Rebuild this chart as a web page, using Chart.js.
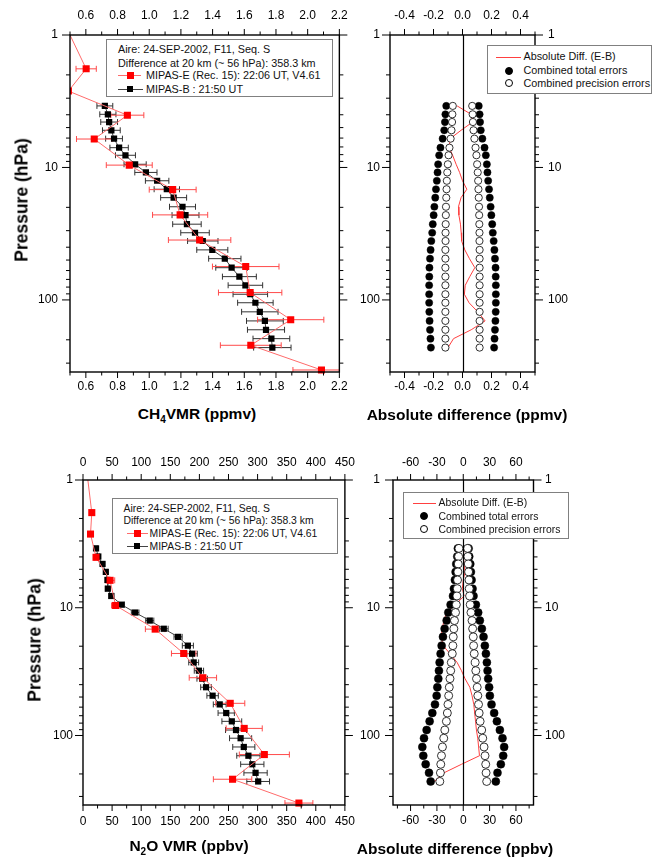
<!DOCTYPE html>
<html>
<head>
<meta charset="utf-8">
<script src="https://cdn.jsdelivr.net/npm/chart.js@4.4.1/dist/chart.umd.min.js"></script>
<style>
  body { margin: 0; background: #fff; width: 655px; height: 858px; position: relative; overflow: hidden;
         font-family: "Liberation Sans", Arial, sans-serif; }
  canvas { position: absolute; }
  .lg { position: absolute; background: #fff; border: 1px solid #808080; box-sizing: border-box; color: #111; }
  .lg div { position: absolute; white-space: nowrap; line-height: 13px; }
  .lg .ln { height: 1px; }
  .lg .sq { width: 7px; height: 7px; }
  .lg .dot { width: 8px; height: 8px; border-radius: 50%; box-sizing: border-box; border: 1px solid #000; }
  .ttl { position: absolute; font-weight: bold; font-size: 15.5px; white-space: nowrap; color: #000;
         transform: translate(-50%, -50%); }
  .ttl sub { font-size: 10px; vertical-align: -4px; }
  .rot { font-size: 17.5px; transform: translate(-50%, -50%) rotate(-90deg); }
</style>
</head>
<body>
<canvas id="ch4" width="360" height="400" style="left:0;top:0"></canvas>
<canvas id="ch4diff" width="305" height="400" style="left:350px;top:0"></canvas>
<canvas id="n2o" width="365" height="418" style="left:0;top:440px"></canvas>
<canvas id="n2odiff" width="305" height="418" style="left:350px;top:440px"></canvas>

<div class="lg" style="left:106px;top:39px;width:227px;height:58px;font-size:10.8px">
  <div style="left:11px;top:3px">Aire: 24-SEP-2002, F11, Seq. S</div>
  <div style="left:11px;top:16.5px">Difference at 20 km (~ 56 hPa): 358.3 km</div>
  <div class="ln" style="left:10.5px;top:35px;width:23px;background:#ff6b6b"></div>
  <div class="sq" style="left:19.5px;top:31.5px;background:#f00"></div>
  <div style="left:39px;top:28.5px">MIPAS-E (Rec. 15): 22:06 UT, V4.61</div>
  <div class="ln" style="left:10.5px;top:48.5px;width:25px;background:#444"></div>
  <div class="sq" style="left:20px;top:45.5px;width:6px;height:6px;background:#000"></div>
  <div style="left:39px;top:42.5px">MIPAS-B : 21:50 UT</div>
</div>

<div class="lg" style="left:487px;top:45px;width:165px;height:49px;font-size:10.8px">
  <div class="ln" style="left:7.5px;top:10.5px;width:25px;background:#ff4040"></div>
  <div style="left:35.5px;top:4px">Absolute Diff. (E-B)</div>
  <div class="dot" style="left:16.5px;top:20.5px;background:#000"></div>
  <div style="left:35.5px;top:18px">Combined total errors</div>
  <div class="dot" style="left:16.5px;top:33px;background:#fff"></div>
  <div style="left:35.5px;top:30.5px">Combined precision errors</div>
</div>

<div class="lg" style="left:112px;top:498px;width:226px;height:56px;font-size:10.4px">
  <div style="left:10.5px;top:2.5px">Aire: 24-SEP-2002, F11, Seq. S</div>
  <div style="left:10.5px;top:15px">Difference at 20 km (~ 56 hPa): 358.3 km</div>
  <div class="ln" style="left:14px;top:34px;width:21px;background:#ff6b6b"></div>
  <div class="sq" style="left:20.5px;top:30.5px;background:#f00"></div>
  <div style="left:36.5px;top:28px">MIPAS-E (Rec. 15): 22:06 UT, V4.61</div>
  <div class="ln" style="left:14px;top:47px;width:21px;background:#444"></div>
  <div class="sq" style="left:21px;top:44px;width:6px;height:6px;background:#000"></div>
  <div style="left:36.5px;top:40.5px">MIPAS-B : 21:50 UT</div>
</div>

<div class="lg" style="left:403px;top:492px;width:166px;height:47px;font-size:10.4px">
  <div class="ln" style="left:9px;top:9.5px;width:23px;background:#ff4040"></div>
  <div style="left:34.5px;top:3px">Absolute Diff. (E-B)</div>
  <div class="dot" style="left:15.5px;top:18.5px;background:#000"></div>
  <div style="left:34.5px;top:16.5px">Combined total errors</div>
  <div class="dot" style="left:15.5px;top:32px;background:#fff"></div>
  <div style="left:34.5px;top:30px">Combined precision errors</div>
</div>

<div class="ttl rot" style="left:22px;top:200px">Pressure (hPa)</div>
<div class="ttl rot" style="left:35px;top:640px">Pressure (hPa)</div>
<div class="ttl" style="left:197px;top:415px">CH<sub>4</sub>VMR (ppmv)</div>
<div class="ttl" style="left:467px;top:415px">Absolute difference (ppmv)</div>
<div class="ttl" style="left:189px;top:847px">N<sub>2</sub>O VMR (ppbv)</div>
<div class="ttl" style="left:455px;top:849px">Absolute difference (ppbv)</div>

<script>
// pressure levels (hPa) of MIPAS-B and of MIPAS-E
var pressB = [3.43, 3.97, 4.54, 5.24, 6.06, 7.09, 8.09, 9.46, 10.9, 12.6, 14.6, 16.9, 19.8, 22.9, 26.8,
  31.1, 35.9, 41.9, 48.8, 57.1, 66.7, 77.5, 90.6, 105, 123, 144, 168, 196, 229];
var pressE = [0.85, 1.8, 2.65, 4.03, 6.1, 9.6, 14.7, 22.8, 35.3, 56, 88, 141, 220, 338];

// CH4 (ppmv)
var ch4B = [0.72, 0.739, 0.747, 0.761, 0.778, 0.81, 0.85, 0.911, 0.979, 1.05, 1.111, 1.154, 1.21, 1.229, 1.238,
  1.289, 1.338, 1.398, 1.477, 1.52, 1.569, 1.607, 1.638, 1.67, 1.698, 1.73, 1.737, 1.771, 1.777];
var ch4BErr = [0.05, 0.051, 0.053, 0.056, 0.053, 0.058, 0.063, 0.07, 0.07, 0.074, 0.08, 0.082, 0.082, 0.085, 0.09,
  0.09, 0.096, 0.098, 0.102, 0.1, 0.107, 0.109, 0.109, 0.112, 0.115, 0.116, 0.117, 0.116, 0.118];
var ch4E = [0.472, 0.602, 0.49, 0.862, 0.653, 0.874, 1.148, 1.195, 1.318, 1.609, 1.637, 1.893, 1.641, 2.087];
var ch4EErr = [0.05, 0.064, 0.01, 0.104, 0.112, 0.145, 0.148, 0.174, 0.197, 0.21, 0.2, 0.209, 0.192, 0.18];
var ch4Diff = [-0.037, 0.06, 0.07, -0.01, -0.085, -0.092, -0.068, -0.044, -0.02, 0.0, 0.03, -0.01, -0.028, -0.025, -0.014,
  -0.009, -0.006, 0.016, 0.048, 0.085, 0.05, 0.019, 0.013, 0.045, 0.105, 0.156, 0.06, -0.062, -0.1];
var ch4Total = [0.112, 0.118, 0.121, 0.126, 0.137, 0.152, 0.161, 0.168, 0.172, 0.177, 0.183, 0.188, 0.194, 0.199, 0.205,
  0.209, 0.215, 0.22, 0.224, 0.228, 0.229, 0.23, 0.23, 0.23, 0.229, 0.227, 0.224, 0.221, 0.218];
var ch4Prec = [0.067, 0.07, 0.072, 0.076, 0.082, 0.09, 0.096, 0.101, 0.105, 0.108, 0.11, 0.112, 0.114, 0.115, 0.116,
  0.117, 0.117, 0.118, 0.118, 0.118, 0.118, 0.118, 0.118, 0.118, 0.118, 0.118, 0.118, 0.118, 0.118];

// N2O (ppbv)
var n2oB = [22.4, 26.3, 33.6, 39.2, 42, 42.6, 48.7, 66.1, 89.6, 114.7, 138.8, 163.4, 180.2, 187.4, 190.2,
  199.2, 204.8, 211.4, 222.7, 234.9, 246.1, 255.7, 262.9, 270.8, 276.3, 284.2, 290.9, 296.5, 301];
var n2oBErr = [2, 2, 2.5, 3, 3, 3.5, 4, 5, 6.5, 7, 7.5, 7, 9.5, 9, 8.5,
  8, 9, 9.2, 9.8, 11, 14, 17, 18, 19, 19, 20, 20, 20, 19.5];
var n2oE = [6.5, 15.1, 12.9, 22.4, 46.5, 56, 124, 173, 206, 253, 277, 311.6, 257, 371];
var n2oEErr = [1, 2, 2, 2.5, 8, 7, 16.8, 21, 23.5, 25, 31, 43, 33, 24];
var n2oDiff = [1, 0, 1, 2, 0, -1, 1, -9, -19, -22, -24, -25, -23, -15, -7,
  -2, 2, 7.5, 10, 12, 13, 14, 15, 16.5, 17.5, 18.5, -2, -22, -33];
var n2oTotal = [6.1, 6.8, 8.0, 8.7, 9.5, 10.6, 11.7, 14.4, 17.0, 18.9, 21.2, 23.1, 24.6, 25.8, 26.9,
  27.7, 28.4, 29.5, 30.3, 32.2, 35.2, 38.3, 41.7, 44.7, 46.6, 45.5, 42.8, 39.0, 37.1];
var n2oPrec = [4.9, 5.3, 5.7, 6.1, 6.5, 6.8, 7.2, 7.9, 8.8, 10.0, 10.7, 11.4, 11.8, 12.5, 13.6,
  14.3, 15.1, 15.9, 16.6, 17.4, 18.1, 19.2, 21.0, 22.2, 23.7, 24.8, 25.6, 26.0, 26.7];

// tick labels
var pressTicks = [1, 10, 100];
var ch4Ticks = [0.6, 0.8, 1.0, 1.2, 1.4, 1.6, 1.8, 2.0, 2.2];
var ch4DiffTicks = [-0.4, -0.2, 0.0, 0.2, 0.4];
var n2oTicks = [0, 50, 100, 150, 200, 250, 300, 350, 400, 450];
var n2oDiffTicks = [-60, -30, 0, 30, 60];

var FONT = '"Liberation Sans", Arial, sans-serif';
Chart.defaults.font.family = FONT;
Chart.defaults.color = '#000';

var logMinor = [2, 3, 4, 5, 6, 7, 8, 9, 20, 30, 40, 50, 60, 70, 80, 90, 200, 300];

function pts(xs, ys) {
  return ys.map(function (y, i) { return {x: xs[i], y: y}; });
}
// values on both sides of zero (error envelopes)
function both(xs, ys) {
  return pts(xs.map(function (v) { return -v; }), ys).concat(pts(xs, ys));
}
function steps(a, b, s) {
  var r = [];
  for (var v = a; v <= b + s / 2; v += s) r.push(v);
  return r;
}

// horizontal error bars
var errorBars = {
  id: 'errorBars',
  beforeDatasetsDraw: function (chart) {
    var ctx = chart.ctx, a = chart.chartArea, xs = chart.scales.x, ys = chart.scales.y;
    ctx.save();
    ctx.beginPath();
    ctx.rect(a.left, a.top, a.right - a.left, a.bottom - a.top);
    ctx.clip();
    chart.data.datasets.forEach(function (ds) {
      if (!ds.errors) return;
      ctx.strokeStyle = ds.errorColor;
      ctx.lineWidth = 1;
      ds.data.forEach(function (d, i) {
        var y = ys.getPixelForValue(d.y);
        var x1 = xs.getPixelForValue(d.x - ds.errors[i]);
        var x2 = xs.getPixelForValue(d.x + ds.errors[i]);
        ctx.beginPath();
        ctx.moveTo(x1, y); ctx.lineTo(x2, y);
        ctx.moveTo(x1, y - 3); ctx.lineTo(x1, y + 3);
        ctx.moveTo(x2, y - 3); ctx.lineTo(x2, y + 3);
        ctx.stroke();
      });
    });
    ctx.restore();
  }
};

// box, outward ticks on all sides, zero line
var frame = {
  id: 'frame',
  afterDatasetsDraw: function (chart, args, o) {
    var ctx = chart.ctx, a = chart.chartArea, xs = chart.scales.x, ys = chart.scales.y;
    ctx.save();
    ctx.strokeStyle = '#000';
    if (o.zero) {
      var x0 = Math.round(xs.getPixelForValue(0)) + 0.5;
      ctx.lineWidth = 1.2;
      ctx.beginPath(); ctx.moveTo(x0, a.top); ctx.lineTo(x0, a.bottom); ctx.stroke();
    }
    ctx.lineWidth = 1;
    ctx.beginPath();
    function xt(list, len) {
      list.forEach(function (v) {
        var x = xs.getPixelForValue(v);
        ctx.moveTo(x, a.top); ctx.lineTo(x, a.top - len);
        ctx.moveTo(x, a.bottom); ctx.lineTo(x, a.bottom + len);
      });
    }
    function yt(list, len) {
      list.forEach(function (v) {
        var y = ys.getPixelForValue(v);
        ctx.moveTo(a.left, y); ctx.lineTo(a.left - len, y);
        ctx.moveTo(a.right, y); ctx.lineTo(a.right + len, y);
      });
    }
    xt(o.xMinor, 3.5);
    xt(o.xMajor, 6);
    yt(logMinor, 4);
    yt(pressTicks, 8);
    ctx.stroke();
    ctx.lineWidth = 1.4;
    ctx.strokeRect(a.left, a.top, a.right - a.left, a.bottom - a.top);
    ctx.restore();
  }
};

function xAxis(pos, o, pad, h) {
  return {
    type: 'linear', position: pos, min: o.min, max: o.max,
    grid: {display: false, drawTicks: false}, border: {display: false},
    afterBuildTicks: function (s) { s.ticks = o.ticks.map(function (v) { return {value: v}; }); },
    afterFit: function (s) { s.height = h; },
    ticks: {padding: pad, autoSkip: false, maxRotation: 0, font: {size: 12},
      callback: function (v) { return v.toFixed(o.dec); }}
  };
}
function yAxis(pos, show, pad, w) {
  return {
    type: 'logarithmic', position: pos, reverse: true, min: 1, max: 350,
    grid: {display: false, drawTicks: false}, border: {display: false},
    afterBuildTicks: function (s) { s.ticks = pressTicks.map(function (v) { return {value: v}; }); },
    afterFit: function (s) { s.width = w; },
    ticks: {display: show, padding: pad, autoSkip: false, font: {size: 12},
      callback: function (v) { return String(v); }}
  };
}

function panel(id, datasets, o) {
  return new Chart(document.getElementById(id), {
    type: 'scatter',
    data: {datasets: datasets},
    plugins: [errorBars, frame],
    options: {
      responsive: false, animation: false, events: [],
      layout: {padding: 0},
      plugins: {legend: {display: false}, tooltip: {enabled: false},
        frame: {xMajor: o.ticks, xMinor: o.minor, zero: o.zero}},
      scales: {
        x: xAxis('bottom', o, o.botPad, o.botH),
        x2: xAxis('top', o, o.topPad, o.topH),
        y: yAxis('left', true, o.leftPad, o.leftW),
        y2: yAxis('right', o.rightLabels, o.rightPad, o.rightW)
      }
    }
  });
}

function vmrSets(bVals, bErr, eVals, eErr) {
  return [
    {label: 'MIPAS-B : 21:50 UT', data: pts(bVals, pressB), errors: bErr, errorColor: '#333',
      showLine: true, borderColor: '#444', borderWidth: 1,
      pointStyle: 'rect', pointRadius: 4.4, pointBackgroundColor: '#000', pointBorderWidth: 0, order: 1},
    {label: 'MIPAS-E (Rec. 15): 22:06 UT, V4.61', data: pts(eVals, pressE), errors: eErr, errorColor: '#ff4b4b',
      showLine: true, borderColor: '#ff6b6b', borderWidth: 1,
      pointStyle: 'rect', pointRadius: 5, pointBackgroundColor: '#ff0000', pointBorderWidth: 0, order: 0,
      clip: {left: 0, top: 0, right: 8, bottom: 8}}
  ];
}
function diffSets(diff, total, prec, r) {
  return [
    {label: 'Absolute Diff. (E-B)', data: pts(diff, pressB), showLine: true, borderColor: '#ff4040',
      borderWidth: 1, pointRadius: 0, order: 3},
    {label: 'Combined total errors', data: both(total, pressB), pointRadius: r,
      pointBackgroundColor: '#000', pointBorderColor: '#000', pointBorderWidth: 0.5, order: 2},
    {label: 'Combined precision errors', data: both(prec, pressB), pointRadius: r,
      pointBackgroundColor: '#fff', pointBorderColor: '#000', pointBorderWidth: 0.8, order: 1}
  ];
}

panel('ch4', vmrSets(ch4B, ch4BErr, ch4E, ch4EErr), {
  min: 0.5, max: 2.2, ticks: ch4Ticks, minor: steps(0.5, 2.1, 0.2), dec: 1,
  topPad: 12.3, botPad: 7.8, topH: 35, botH: 28, leftW: 70, rightW: 13, leftPad: 12, rightPad: 10, rightLabels: false
});
panel('ch4diff', diffSets(ch4Diff, ch4Total, ch4Prec, 3.6), {
  min: -0.5, max: 0.5, ticks: ch4DiffTicks, minor: steps(-0.5, 0.5, 0.2), dec: 1, zero: true,
  topPad: 11.8, botPad: 7.8, topH: 35, botH: 28, leftW: 40, rightW: 120, leftPad: 10, rightPad: 13, rightLabels: true
});
panel('n2o', vmrSets(n2oB, n2oBErr, n2oE, n2oEErr), {
  min: 0, max: 450, ticks: n2oTicks, minor: steps(25, 425, 50), dec: 0,
  topPad: 10.1, botPad: 9.5, topH: 40, botH: 53, leftW: 83, rightW: 14, leftPad: 10, rightPad: 10, rightLabels: false
});
panel('n2odiff', diffSets(n2oDiff, n2oTotal, n2oPrec, 4), {
  min: -80, max: 80, ticks: n2oDiffTicks, minor: steps(-75, 75, 30), dec: 0, zero: true,
  topPad: 10.1, botPad: 8, topH: 40, botH: 53, leftW: 43, rightW: 121.5, leftPad: 13, rightPad: 11.5, rightLabels: true
});
</script>
</body>
</html>
